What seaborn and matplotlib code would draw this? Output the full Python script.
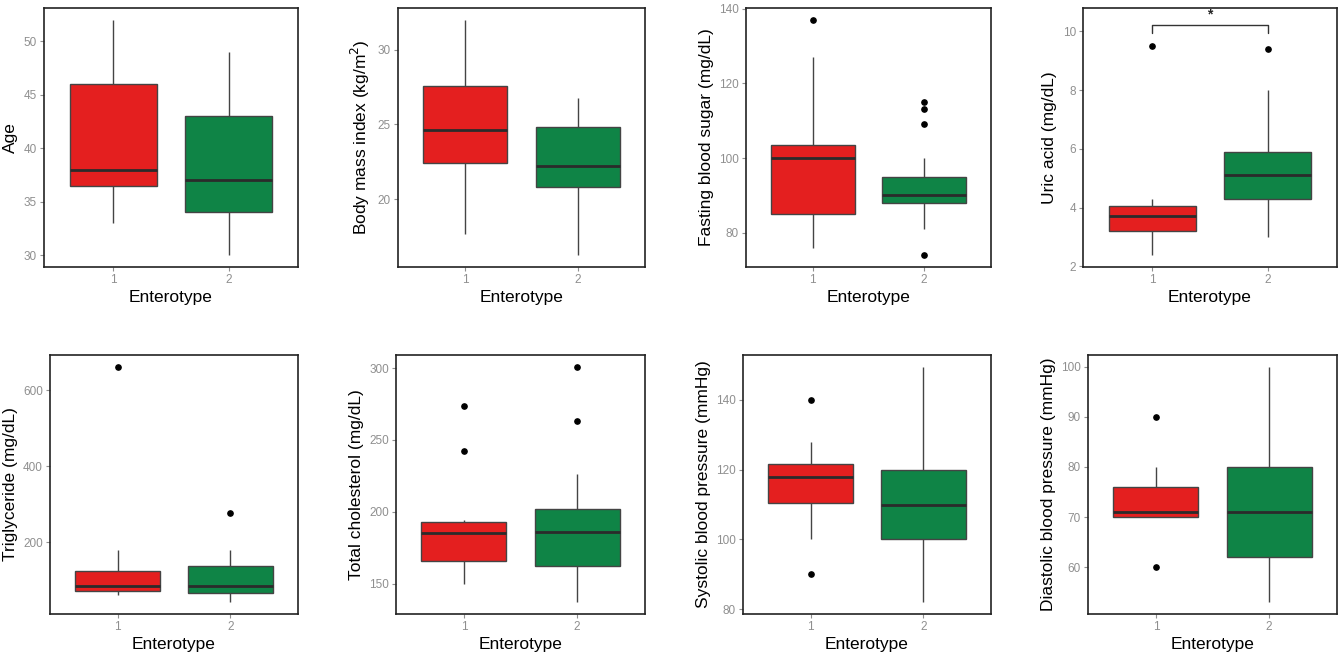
import numpy as np
import pandas as pd
import matplotlib
matplotlib.use("Agg")
import matplotlib.pyplot as plt
import seaborn as sns

sns.set_theme(style="white")
plt.rcParams["font.family"] = ["Liberation Sans", "DejaVu Sans"]

groups = ["1", "2"]
colors = ["#E41F1F", "#0F8446"]

age_1 = [33, 36.5, 38, 46, 52]
age_2 = [30, 34, 37, 43, 49]

bmi_1 = [17.7, 22.4, 24.6, 27.55, 32.0]
bmi_2 = [16.25, 20.8, 22.25, 24.85, 26.8]

fbs_1 = [76, 80, 85, 95, 100, 102, 103.6, 127, 137]
fbs_2 = [74, 81, 84, 86, 88, 88.5, 89, 89.5, 90, 92, 93, 94, 95, 100, 109, 113, 115]

uric_1 = [2.4, 3.0, 3.2, 3.5, 3.7, 3.9, 4.05, 4.3, 9.5]
uric_2 = [3.0, 4.0, 4.3, 4.8, 5.1, 5.5, 5.9, 8.0, 9.4]

tg_1 = [61, 70, 73, 80, 86, 100, 125.6, 180, 661]
tg_2 = [43, 60, 68, 78, 86, 110, 138, 180, 278]

tc_1 = [150, 158, 162, 166, 175, 180, 185, 188, 191, 193, 194, 242, 274]
tc_2 = [137, 145, 155, 162, 170, 180, 186, 192, 198, 202, 226, 263, 301]

sbp_1 = [90, 100, 110.5, 115, 118, 120, 121.5, 128, 140]
sbp_2 = [82, 100, 110, 120, 149.5]

dbp_1 = [60, 70, 70, 70.5, 71, 73, 76, 80, 90]
dbp_2 = [53, 62, 71, 80, 100]

labels = ["Age", "Body mass index (kg/m$^2$)", "Fasting blood sugar (mg/dL)",
          "Uric acid (mg/dL)", "Triglyceride (mg/dL)", "Total cholesterol (mg/dL)",
          "Systolic blood pressure (mmHg)", "Diastolic blood pressure (mmHg)"]
yticks = [[30, 35, 40, 45, 50], [20, 25, 30], [80, 100, 120, 140], [2, 4, 6, 8, 10],
          [200, 400, 600], [150, 200, 250, 300], [80, 100, 120, 140], [60, 70, 80, 90, 100]]
panels = [(age_1, age_2), (bmi_1, bmi_2), (fbs_1, fbs_2), (uric_1, uric_2),
          (tg_1, tg_2), (tc_1, tc_2), (sbp_1, sbp_2), (dbp_1, dbp_2)]

# significance bracket for uric acid
sig_y = 10.23
sig_drop = 9.94
sig_label = "*"

# axes boxes in pixels (left, right, top, bottom)
W, H = 1340, 652
boxes = [(44, 298, 8, 267), (398, 645, 8, 267), (746, 991, 8, 267), (1083, 1337, 8, 267),
         (50, 298, 355, 614), (396, 645, 355, 614), (743, 991, 355, 614), (1088, 1337, 355, 614)]

fig = plt.figure(figsize=(W / 100, H / 100), dpi=100)

for i, ((g1, g2), lab, ticks, (l, r, t, b)) in enumerate(zip(panels, labels, yticks, boxes)):
    ax = fig.add_axes([l / W, 1 - b / H, (r - l) / W, (b - t) / H])
    df = pd.DataFrame({
        "Enterotype": [groups[0]] * len(g1) + [groups[1]] * len(g2),
        "value": g1 + g2,
    })
    sns.boxplot(data=df, x="Enterotype", y="value", hue="Enterotype", order=groups,
                palette=colors, legend=False, width=0.75, whis=1.5, ax=ax,
                linewidth=1.0, linecolor="#444444", saturation=1,
                medianprops={"color": "#2b2b2b", "linewidth": 2.0},
                whiskerprops={"color": "#444444", "linewidth": 1.0},
                capprops={"linewidth": 0},
                flierprops={"marker": "o", "markersize": 3.8, "markerfacecolor": "black",
                            "markeredgecolor": "black"})
    ax.set_xlim(-0.6, 1.6)
    allv = np.array(g1 + g2)
    lo, hi = allv.min(), allv.max()
    pad = 0.05 * (hi - lo)
    if i == 3:
        ax.set_ylim(1.98, 10.8)
        ax.plot([0, 0, 1, 1], [sig_drop, sig_y, sig_y, sig_drop], color="#333333", lw=1.0)
        ax.text(0.5, sig_y + 0.1, sig_label, ha="center", va="bottom", fontsize=10,
                fontweight="bold")
    else:
        ax.set_ylim(lo - pad, hi + pad)
    ax.set_yticks(ticks)
    ax.set_ylabel(lab, fontsize=12.5, color="black", labelpad=4)
    ax.set_xlabel("Enterotype", fontsize=12.5, color="black", labelpad=3)
    ax.tick_params(axis="both", which="major", labelsize=8.5, labelcolor="#8f8f8f",
                   color="#8f8f8f", length=3, width=0.8, direction="out", pad=2,
                   bottom=True, left=True)
    for s in ax.spines.values():
        s.set_color("#222222")
        s.set_linewidth(1.2)

fig.savefig("out.png", dpi=100)
